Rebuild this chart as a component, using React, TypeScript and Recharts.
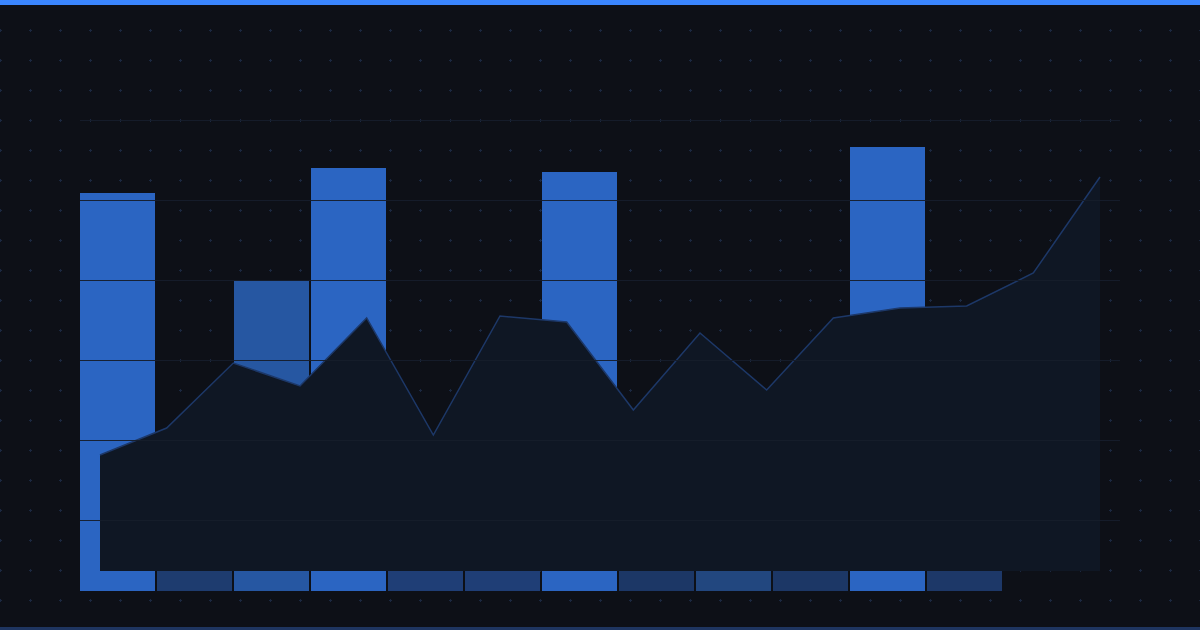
import React from "react";
import {
  BarChart,
  Bar,
  Cell,
  AreaChart,
  Area,
  LineChart,
  Line,
  XAxis,
  YAxis,
  ReferenceLine,
} from "recharts";

// bar columns (values on a 0-100 scale)
const barSlots = ["b1", "b2", "b3", "b4", "b5", "b6", "b7", "b8", "b9", "b10", "b11", "b12"];
const barValues = [79.6, 24, 62, 84.6, 22, 30, 83.8, 26, 28, 25, 88.8, 32];

// area series (values on a 0-100 scale)
const areaSteps = ["t1", "t2", "t3", "t4", "t5", "t6", "t7", "t8", "t9", "t10", "t11", "t12", "t13", "t14", "t15", "t16"];
const areaValues = [23.2, 28.6, 41.6, 37, 50.6, 27.2, 51, 49.8, 32.2, 47.6, 36.2, 50.6, 52.6, 53, 59.6, 78.8];

// horizontal guide levels
const gridTicks = [20, 40, 60, 80, 100, 120];

const barShades = [
  "#2b65c2", "#1e3c6f", "#2657a2", "#2b65c2", "#1f3e76", "#1f3e76",
  "#2b65c2", "#1c3766", "#22477f", "#1c3766", "#2b65c2", "#1d3868",
];

const barData = barSlots.map((name, i) => ({ name, value: barValues[i] }));
const areaData = areaSteps.map((t, i) => ({ t, value: areaValues[i] }));

const W = 1200;
const H = 630;

const plusTile =
  "data:image/svg+xml;utf8," +
  encodeURIComponent(
    '<svg xmlns="http://www.w3.org/2000/svg" width="30" height="30" shape-rendering="crispEdges">' +
      '<rect x="14" y="15" width="3" height="1" fill="#1b2840"/>' +
      '<rect x="15" y="14" width="1" height="3" fill="#1b2840"/>' +
      "</svg>"
  );

const layer: React.CSSProperties = { position: "absolute", left: 0, top: 0 };

export default function App() {
  return (
    <div
      style={{
        position: "fixed",
        left: 0,
        top: 0,
        width: W,
        height: H,
        overflow: "hidden",
        background: "#0d1017",
        backgroundImage: `url("${plusTile}")`,
        backgroundPosition: "-15px -15px",
      }}
    >
      <div style={layer}>
        <BarChart
          width={W}
          height={H}
          data={barData}
          margin={{ top: 91, right: 197, bottom: 39, left: 79 }}
          barCategoryGap={1}
        >
          <XAxis dataKey="name" hide />
          <YAxis hide domain={[0, 100]} />
          <Bar dataKey="value" isAnimationActive={false}>
            {barData.map((d, i) => (
              <Cell key={d.name} fill={barShades[i]} />
            ))}
          </Bar>
        </BarChart>
      </div>

      <div style={layer}>
        <AreaChart
          width={W}
          height={H}
          data={areaData}
          margin={{ top: 71, right: 100, bottom: 59, left: 100 }}
        >
          <XAxis dataKey="t" hide />
          <YAxis hide domain={[0, 100]} />
          <Area
            type="linear"
            dataKey="value"
            stroke="#1d3868"
            strokeWidth={1.5}
            fill="#0f1724"
            fillOpacity={1}
            dot={false}
            activeDot={false}
            isAnimationActive={false}
          />
        </AreaChart>
      </div>

      {/* guide lines sit above bars and area */}
      <div style={layer}>
        <LineChart
          width={W}
          height={H}
          data={areaData}
          margin={{ top: 120, right: 80, bottom: 30, left: 80 }}
        >
          <XAxis dataKey="t" hide />
          <YAxis hide type="number" domain={[0, 120]} />
          <Line
            dataKey="value"
            stroke="none"
            dot={false}
            activeDot={false}
            isAnimationActive={false}
          />
          {gridTicks.map((v) => (
            <ReferenceLine
              key={v}
              y={v}
              stroke="#161d2b"
              strokeOpacity={0.95}
              shapeRendering="crispEdges"
              ifOverflow="extendDomain"
            />
          ))}
        </LineChart>
      </div>

      <div style={{ ...layer, width: W, height: 5, background: "#3a86ff" }} />
      <div style={{ ...layer, top: H - 3, width: W, height: 3, background: "#1e3560" }} />
    </div>
  );
}
